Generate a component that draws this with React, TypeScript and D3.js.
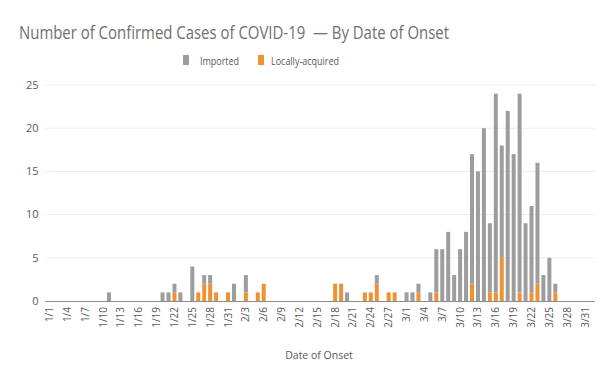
import React from "react";
import * as d3 from "d3";

// Data (dates with non-zero cases; all other days are 0)
const caseDates = [
  "1/11", "1/20", "1/21", "1/22", "1/23", "1/25", "1/26", "1/27", "1/28", "1/29", "1/31",
  "2/1", "2/3", "2/5", "2/6", "2/18", "2/19", "2/20", "2/23", "2/24", "2/25", "2/27", "2/28",
  "3/1", "3/2", "3/3", "3/5", "3/6", "3/7", "3/8", "3/9", "3/10", "3/11", "3/12", "3/13",
  "3/14", "3/15", "3/16", "3/17", "3/18", "3/19", "3/20", "3/21", "3/22", "3/23", "3/24",
  "3/25", "3/26",
];
const importedValues = [
  1, 1, 1, 1, 1, 4, 0, 1, 1, 0, 0,
  2, 2, 0, 0, 0, 0, 1, 0, 0, 1, 0, 0,
  1, 1, 1, 1, 5, 6, 8, 3, 6, 8, 15, 15,
  20, 8, 23, 13, 22, 17, 23, 9, 10, 14, 3,
  5, 1,
];
const localValues = [
  0, 0, 0, 1, 0, 0, 1, 2, 2, 1, 1,
  0, 1, 1, 2, 2, 2, 0, 1, 1, 2, 1, 1,
  0, 0, 1, 0, 1, 0, 0, 0, 0, 0, 2, 0,
  0, 1, 1, 5, 0, 0, 1, 0, 1, 2, 0,
  0, 1,
];
const yTicks = [0, 5, 10, 15, 20, 25];
const seriesNames = ["Imported", "Locally-acquired"];

const GRAY = "#9d9d9d";
const ORANGE = "#ee9233";
const TEXT = "#595959";
const FONT = "'Open Sans', 'Noto Sans', sans-serif";

const fmt = d3.timeFormat("%-m/%-d");
const allDays = d3.timeDay.range(new Date(2020, 0, 1), new Date(2020, 3, 2)).map(fmt);

export default function App() {
  const width = 616;
  const height = 383;

  const x = d3.scaleBand<string>().domain(allDays).range([46.5, 594]).paddingInner(0.33).paddingOuter(0.165);
  const y = d3.scaleLinear().domain([0, 25]).range([301, 85]);

  const rows = allDays.map((d) => {
    const i = caseDates.indexOf(d);
    return {
      day: d,
      local: i >= 0 ? localValues[i] : 0,
      imported: i >= 0 ? importedValues[i] : 0,
    };
  });
  const stack = d3.stack<any>().keys(["local", "imported"])(rows);
  const colors: Record<string, string> = { local: ORANGE, imported: GRAY };

  const labelDays = allDays.filter((_, i) => i % 3 === 0 && i <= 90);

  return (
    <svg
      width={width}
      height={height}
      style={{ position: "absolute", left: 0, top: 0, background: "#fff" }}
      fontFamily={FONT}
    >
      <rect width={width} height={height} fill="#fff" />
      <text x={19} y={38.5} fontSize={18} fill="#707070" textLength={430} lengthAdjust="spacingAndGlyphs">
        {"Number of Confirmed Cases of COVID-19\u00A0 \u2014 By Date of Onset"}
      </text>

      {/* legend */}
      <rect x={183} y={55} width={6} height={10} fill={GRAY} />
      <text x={200} y={64.5} fontSize={10.5} fill={TEXT} textLength={39} lengthAdjust="spacingAndGlyphs">
        {seriesNames[0]}
      </text>
      <rect x={258} y={55} width={6} height={10} fill={ORANGE} />
      <text x={271} y={64.5} fontSize={10.5} fill={TEXT} textLength={68} lengthAdjust="spacingAndGlyphs">
        {seriesNames[1]}
      </text>

      {/* gridlines & y labels */}
      {yTicks.map((t) => (
        <g key={t}>
          {t > 0 && <line x1={45} x2={595} y1={y(t)} y2={y(t)} stroke="#eeeeee" strokeWidth={1} />}
          <text x={38.5} y={y(t)} dy="0.35em" textAnchor="end" fontSize={11} fill={TEXT}>
            {t}
          </text>
        </g>
      ))}

      {/* bars */}
      {stack.map((s) => (
        <g key={s.key} fill={colors[s.key]}>
          {s.map((d, i) =>
            d[1] - d[0] > 0 ? (
              <rect
                key={i}
                x={x(d.data.day)}
                width={x.bandwidth()}
                y={y(d[1])}
                height={y(d[0]) - y(d[1])}
              />
            ) : null
          )}
        </g>
      ))}

      {/* baseline */}
      <line x1={45} x2={595} y1={y(0) + 0.5} y2={y(0) + 0.5} stroke="#8c8c8c" strokeWidth={1} />

      {/* x labels */}
      {labelDays.map((d) => {
        const cx = (x(d) as number) + x.bandwidth() / 2;
        return (
          <text
            key={d}
            transform={`translate(${cx},307) rotate(-90)`}
            dy="0.35em"
            textAnchor="end"
            fontSize={10}
            fill={TEXT}
          >
            {d}
          </text>
        );
      })}

      <text x={319} y={359} textAnchor="middle" fontSize={10.5} fill={TEXT}>
        Date of Onset
      </text>
    </svg>
  );
}
